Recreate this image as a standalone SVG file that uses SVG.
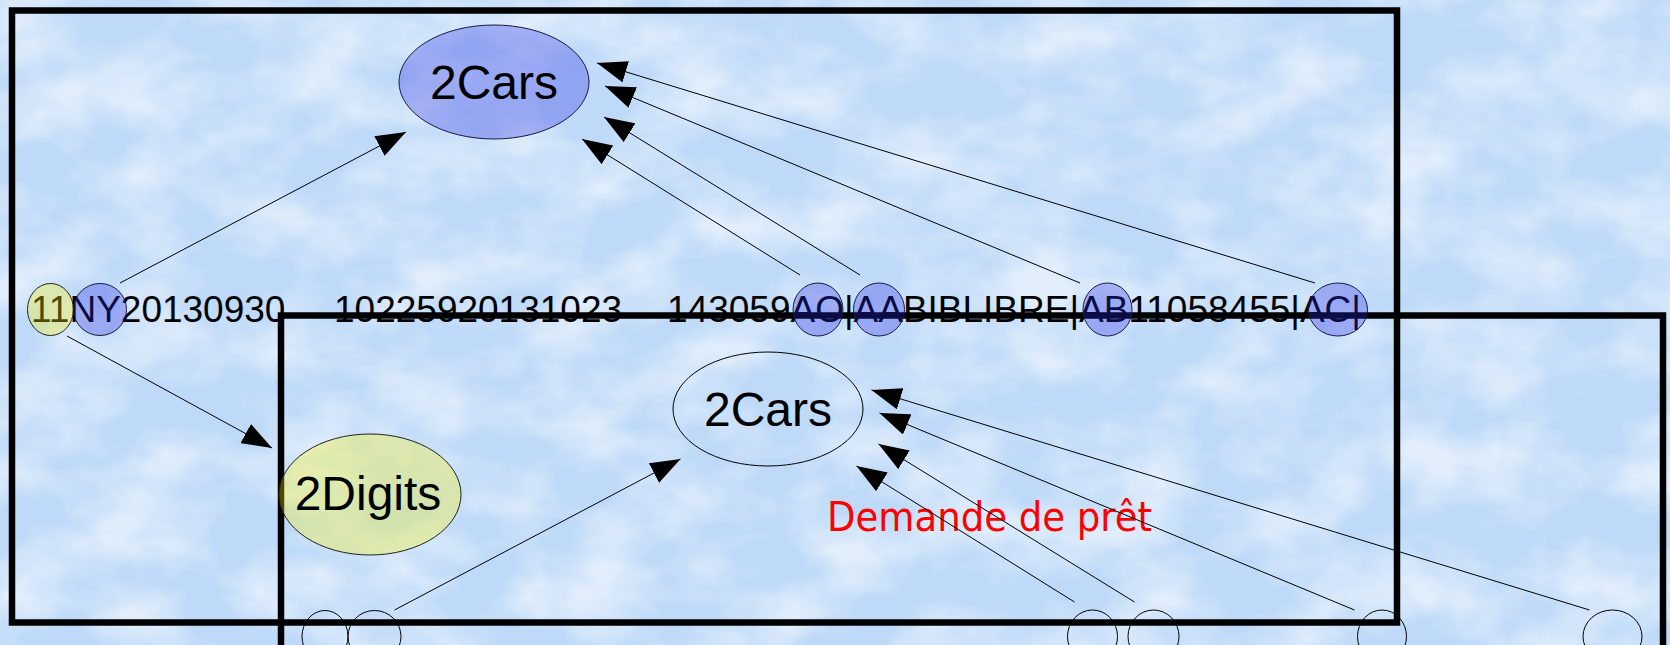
<svg xmlns="http://www.w3.org/2000/svg" width="1670" height="645" viewBox="0 0 1670 645">
<defs>
  <filter id="clouds" filterUnits="userSpaceOnUse" x="0" y="0" width="1670" height="645" color-interpolation-filters="sRGB">
    <feTurbulence type="fractalNoise" baseFrequency="0.011 0.016" numOctaves="4" seed="11"/>
    <feColorMatrix type="matrix" values="0 0 0 0 1  0 0 0 0 1  0 0 0 0 1  2.2 0 0 0 -0.8"/>
  </filter>
  <marker id="arr" markerUnits="userSpaceOnUse" markerWidth="30" markerHeight="22" viewBox="0 0 30 22" refX="30" refY="11" orient="auto">
    <path d="M0,0 L30,11 L0,22 Z" fill="#000"/>
  </marker>
</defs>
<style>
  .frame{fill:none;stroke:#000;stroke-width:6.5}
  #connectors line{stroke:#000;stroke-width:1;marker-end:url(#arr)}
  .blue{fill:#2828e6;fill-opacity:0.3;stroke:#1a1a40;stroke-width:1}
  .yellow{fill:#fff400;fill-opacity:0.3;stroke:#222;stroke-width:1}
  .outline{fill:none;stroke:#000;stroke-width:1}
  .lbl{font-family:"Liberation Sans",Arial,sans-serif;font-size:48px;fill:#000;text-anchor:middle}
  .rec{font-family:"Liberation Sans",Arial,sans-serif;font-size:37px;fill:#000}
  .note{font-family:"DejaVu Sans Condensed","DejaVu Sans",sans-serif;font-stretch:condensed;font-size:41px;fill:#ff0000}
</style>

<rect width="1670" height="645" fill="#bfdaf8"/>
<rect width="1670" height="645" fill="#fff" filter="url(#clouds)" opacity="0.55"/>

<g id="frames">
  <rect class="frame" x="12" y="10.5" width="1385" height="612"/>
  <rect class="frame" x="281" y="315.5" width="1382" height="400"/>
</g>

<g id="record">
  <text class="rec" y="321.5"><tspan x="31">11NY20130930</tspan><tspan x="334">10225920131023</tspan><tspan x="667">143059AO|AABIBLIBRE|AB11058455|AC|</tspan></text>
</g>

<g id="note">
  <text class="note" x="827" y="531" textLength="325" lengthAdjust="spacingAndGlyphs">Demande de prêt</text>
</g>

<g id="connectors">
  <line x1="120" y1="283" x2="406" y2="132"/>
  <line x1="800" y1="275" x2="582" y2="139"/>
  <line x1="860" y1="275" x2="604" y2="117"/>
  <line x1="1080" y1="283" x2="605" y2="86"/>
  <line x1="1315" y1="283" x2="597" y2="63"/>
  <line x1="67" y1="336" x2="272" y2="448"/>
  <line x1="394.5" y1="610" x2="680.5" y2="459"/>
  <line x1="1074.5" y1="602" x2="856.5" y2="466"/>
  <line x1="1134.5" y1="602" x2="878.5" y2="444"/>
  <line x1="1354.5" y1="610" x2="879.5" y2="413"/>
  <line x1="1589.5" y1="610" x2="871.5" y2="390"/>
</g>

<g id="cars-top">
  <ellipse class="blue" cx="494" cy="82" rx="95" ry="57"/>
  <text class="lbl" x="494" y="99">2Cars</text>
</g>
<g id="digits">
  <ellipse class="yellow" cx="370" cy="494.5" rx="91" ry="60.5"/>
  <text class="lbl" x="368" y="510">2Digits</text>
</g>
<g id="cars-bottom">
  <ellipse class="outline" cx="768" cy="409" rx="95" ry="57"/>
  <text class="lbl" x="768" y="425.5">2Cars</text>
</g>

<g id="tok-11"><ellipse class="yellow" cx="50.5" cy="309.5" rx="23" ry="26"/></g>
<g id="tok-NY"><ellipse class="blue" cx="100" cy="309.5" rx="26.5" ry="26"/></g>
<g id="tok-AO"><ellipse class="blue" cx="818" cy="309.5" rx="25" ry="26.5"/></g>
<g id="tok-AA"><ellipse class="blue" cx="879" cy="309.5" rx="25.5" ry="26.5"/></g>
<g id="tok-AB"><ellipse class="blue" cx="1107.5" cy="309.5" rx="24.5" ry="26.5"/></g>
<g id="tok-AC"><ellipse class="blue" cx="1338" cy="309.5" rx="29.5" ry="26.5"/></g>

<g id="tok-11-b"><ellipse class="outline" cx="325" cy="636.5" rx="23" ry="26"/></g>
<g id="tok-NY-b"><ellipse class="outline" cx="374.5" cy="636.5" rx="26.5" ry="26"/></g>
<g id="tok-AO-b"><ellipse class="outline" cx="1092.5" cy="636.5" rx="25" ry="26.5"/></g>
<g id="tok-AA-b"><ellipse class="outline" cx="1153.5" cy="636.5" rx="25.5" ry="26.5"/></g>
<g id="tok-AB-b"><ellipse class="outline" cx="1382" cy="636.5" rx="24.5" ry="26.5"/></g>
<g id="tok-AC-b"><ellipse class="outline" cx="1612.5" cy="636.5" rx="29.5" ry="26.5"/></g>
</svg>
